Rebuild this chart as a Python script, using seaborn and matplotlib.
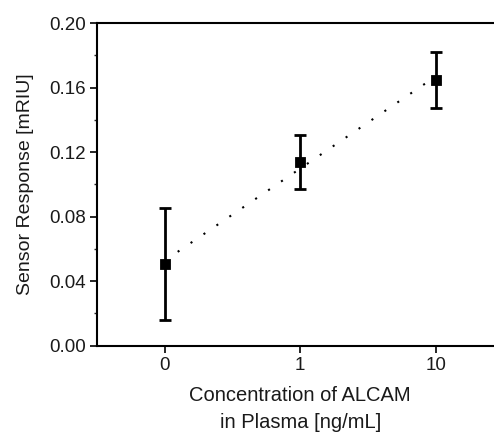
import matplotlib
matplotlib.use("Agg")
import matplotlib.pyplot as plt
import seaborn as sns
import numpy as np
import pandas as pd
from matplotlib.ticker import MultipleLocator

categories = ["0", "1", "10"]
response = [0.0507, 0.1139, 0.1649]
err_low = [0.0159, 0.0970, 0.1474]
err_high = [0.0856, 0.1308, 0.1823]

sns.set_style("ticks")
plt.rcParams['font.family'] = ['Liberation Sans', 'DejaVu Sans']

df = pd.DataFrame({"pos": np.arange(len(categories)), "y": response})

fig = plt.figure(figsize=(4.94, 4.32), dpi=100)
ax = fig.add_axes([97/494, 1 - 345.7/432, (503.6 - 97)/494, (345.7 - 23)/432])

sns.regplot(data=df, x="pos", y="y", ax=ax, scatter=False, ci=None,
            line_kws=dict(color="black", linestyle=(0, (1, 6.5)), linewidth=1.5))

yerr = np.array([np.array(response) - np.array(err_low),
                 np.array(err_high) - np.array(response)])
ax.errorbar(df["pos"], df["y"], yerr=yerr, fmt="none", ecolor="black",
            elinewidth=2, capsize=4, capthick=2, zorder=3)
sns.scatterplot(data=df, x="pos", y="y", ax=ax, marker="s", s=55,
                color="black", edgecolor="black", zorder=4)

ax.set_xlim(-0.5, 2.5)
ax.set_ylim(0, 0.20)
ax.set_xticks(df["pos"])
ax.set_xticklabels(categories)
ax.yaxis.set_major_locator(MultipleLocator(0.04))
ax.yaxis.set_minor_locator(MultipleLocator(0.02))
ax.set_yticklabels([f"{v:.2f}" for v in ax.get_yticks()])
ax.tick_params(axis="both", which="major", direction="out", length=5,
               width=1.2, labelsize=13.5, color="black", labelcolor="#1a1a1a")
ax.tick_params(axis="y", which="minor", direction="out", length=2.5, width=1.0)
ax.tick_params(axis="x", pad=3)
ax.tick_params(axis="y", pad=3)

for side in ["left", "bottom", "top"]:
    ax.spines[side].set_visible(True)
    ax.spines[side].set_linewidth(1.5)
    ax.spines[side].set_color("black")
ax.spines["right"].set_visible(False)

ax.set_xlabel("Concentration of ALCAM\nin Plasma [ng/mL]", fontsize=14.5,
              labelpad=9, linespacing=1.5, color="#1a1a1a")
ax.set_ylabel("Sensor Response [mRIU]", fontsize=14, labelpad=11, color="#1a1a1a")

fig.savefig("out.png", dpi=100)
